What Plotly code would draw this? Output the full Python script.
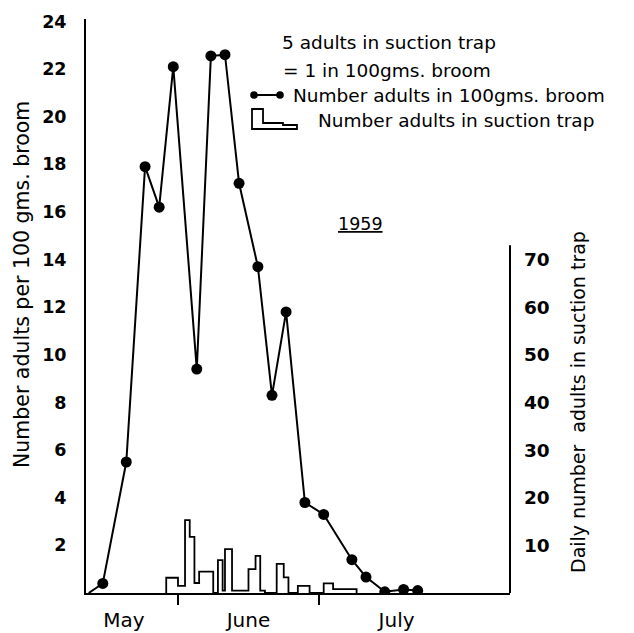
import plotly.graph_objects as go

# Broom samples: sampling date and adults per 100 gms. of broom
broom_dates = ["1959-05-13", "1959-05-16", "1959-05-21", "1959-05-25", "1959-05-28",
               "1959-05-31", "1959-06-05", "1959-06-08", "1959-06-11", "1959-06-14",
               "1959-06-18", "1959-06-21", "1959-06-24", "1959-06-28", "1959-07-02",
               "1959-07-08", "1959-07-11", "1959-07-15", "1959-07-19", "1959-07-22"]
broom_adults = [0, 0.4, 5.5, 17.9, 16.2,
                22.1, 9.4, 22.55, 22.6, 17.2,
                13.7, 8.3, 11.8, 3.8, 3.3,
                1.4, 0.67, 0.05, 0.15, 0.1]

# Suction trap: period boundaries and daily number of adults in each period
trap_edges = ["1959-05-29 12:00", "1959-06-01 00:00", "1959-06-02 12:00", "1959-06-03 12:00",
              "1959-06-04 12:00", "1959-06-05 12:00", "1959-06-08 12:00", "1959-06-09 12:00",
              "1959-06-10 12:00", "1959-06-11 00:00", "1959-06-12 12:00", "1959-06-16 00:00",
              "1959-06-17 12:00", "1959-06-18 12:00", "1959-06-19 12:00", "1959-06-22 00:00",
              "1959-06-23 12:00", "1959-06-24 12:00", "1959-06-26 12:00", "1959-06-29 00:00",
              "1959-07-02 00:00", "1959-07-04 00:00", "1959-07-09 00:00"]
trap_adults = [3.2, 1.5, 15.3, 11.8, 2.1, 4.5, 0, 6.9, 0.5, 9.2, 0.5,
               5.0, 7.8, 0.5, 0, 6.1, 3.3, 0, 1.5, 0, 2.0, 0.8]

# Axis ticks and labels
month_starts = ["1959-06-01", "1959-07-01"]
month_label_dates = ["1959-05-20 12:00", "1959-06-16 00:00", "1959-07-17 12:00"]
month_names = ["May", "June", "July"]
broom_ticks = [2, 4, 6, 8, 10, 12, 14, 16, 18, 20, 22, 24]
trap_ticks = [10, 20, 30, 40, 50, 60, 70]
x_range = ["1959-05-12 10:20", "1959-08-10 15:20"]
broom_max = 24.1
trap_per_broom = 5  # 5 adults in suction trap = 1 in 100 gms. broom

W, H = 634, 633
L, R, T, B = 86, 124, 19, 40
PW, PH = W - L - R, H - T - B


def px(x):
    return (x - L) / PW


def py(y):
    return (H - B - y) / PH


FONT = "DejaVu Sans"

fig = go.Figure()

# Suction trap outline drawn as a stepped histogram
step_x = [trap_edges[0]] + trap_edges
step_y = [0] + trap_adults + [0]
fig.add_trace(go.Scatter(
    x=step_x, y=step_y, yaxis="y2", mode="lines",
    line=dict(shape="hv", color="black", width=1.8),
    name="Number adults in suction trap", hoverinfo="skip",
))

# Broom counts
marker_sizes = [0] + [11] * (len(broom_adults) - 1)
fig.add_trace(go.Scatter(
    x=broom_dates, y=broom_adults, mode="lines+markers",
    line=dict(color="black", width=2),
    marker=dict(color="black", size=marker_sizes, opacity=1, line=dict(width=0)),
    name="Number adults in 100gms. broom",
))

shapes = [
    # right-hand axis line, only up to the top of its scale
    dict(type="line", xref="paper", yref="y2", x0=1, x1=1, y0=0, y1=73,
         line=dict(color="black", width=2)),
    # key: dot-line-dot
    dict(type="circle", xref="paper", yref="paper", x0=px(250.2), x1=px(257.8),
         y0=py(98.8), y1=py(91.2), fillcolor="black", line=dict(color="black", width=0)),
    dict(type="circle", xref="paper", yref="paper", x0=px(276.2), x1=px(283.8),
         y0=py(98.8), y1=py(91.2), fillcolor="black", line=dict(color="black", width=0)),
    dict(type="line", xref="paper", yref="paper", x0=px(257), x1=px(277),
         y0=py(95), y1=py(95), line=dict(color="black", width=2)),
]
# key: stepped outline
pts = [(252, 129), (252, 109), (263, 109), (263, 123), (283, 123), (283, 125),
       (297, 125), (297, 129)]
path = "M" + " L".join(f"{px(a):.4f},{py(b):.4f}" for a, b in pts) + " Z"
shapes.append(dict(type="path", xref="paper", yref="paper", path=path,
                   line=dict(color="black", width=1.8)))


def note(text, x, y, size=18.5, xanchor="left", angle=0):
    return dict(text=text, xref="paper", yref="paper", x=px(x), y=py(y),
                xanchor=xanchor, yanchor="middle", showarrow=False, textangle=angle,
                font=dict(family=FONT, size=size, color="black"))


annotations = [
    note("5 adults in suction trap", 280, 43),
    note("= 1 in 100gms. broom", 281, 70),
    note("Number adults in 100gms. broom", 291, 95),
    note("Number adults in suction trap", 316, 120),
    note("<u>1959</u>", 360, 224, size=17.5, xanchor="center"),
    note("Number adults per 100 gms. broom", 22, 285, size=20.5, xanchor="center", angle=-90),
    note("Daily number  adults in suction trap", 578, 402, size=19, xanchor="center", angle=-90),
]

fig.update_layout(
    width=W, height=H, margin=dict(l=L, r=R, t=T, b=B, autoexpand=False),
    paper_bgcolor="white", plot_bgcolor="white", showlegend=False,
    font=dict(family=FONT, color="black"),
    xaxis=dict(
        type="date", range=x_range, showline=True, linecolor="black", linewidth=2,
        showgrid=False, zeroline=False, tickmode="array", tickvals=month_label_dates,
        ticktext=month_names, ticks="", ticklabelstandoff=8,
        tickfont=dict(family=FONT, size=20, color="black"),
        minor=dict(tickmode="array", tickvals=month_starts, ticks="outside", ticklen=10,
                   tickwidth=1.5, tickcolor="black", showgrid=False),
    ),
    yaxis=dict(
        range=[0, broom_max], tickmode="array", tickvals=broom_ticks, ticks="",
        showline=True, linecolor="black", linewidth=2, showgrid=False, zeroline=False,
        ticklabelstandoff=14, tickfont=dict(family=FONT, size=17.5, color="black", weight="bold"),
    ),
    yaxis2=dict(
        overlaying="y", side="right", range=[0, broom_max * trap_per_broom],
        tickmode="array", tickvals=trap_ticks, ticks="", showline=False, showgrid=False,
        zeroline=False, ticklabelstandoff=13,
        tickfont=dict(family=FONT, size=18.5, color="black", weight="bold"),
    ),
    shapes=shapes,
    annotations=annotations,
)

fig.write_html("out.html")
